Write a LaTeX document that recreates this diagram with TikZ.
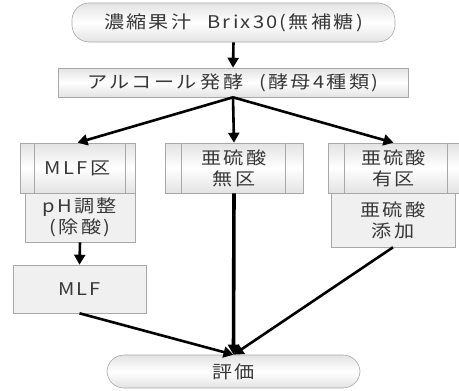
\documentclass[tikz,border=0pt]{standalone}
\usepackage{fontspec}
\newfontfamily\jp[FakeStretch=1.15, LetterSpace=13]{Noto Sans CJK JP}
\usetikzlibrary{arrows.meta,calc}
\definecolor{txt}{HTML}{383838}
\definecolor{edge}{HTML}{A8A8A8}
\tikzset{
  shadebox/.style={draw=edge, line width=0.6pt, rectangle, inner sep=0pt,
    top color=gray!22, bottom color=gray!22, middle color=white,
    text=txt, font=\jp\fontsize{17.5}{21}\selectfont, align=center},
  procbox/.style={shadebox},
  stadium/.style={shadebox, rounded corners=17pt},
  conn/.style={line width=2.6pt, -{Triangle[length=10pt,width=11pt]}},
}
\begin{document}
\begin{tikzpicture}[x=1pt,y=-1pt]
\useasboundingbox (0,0) rectangle (459,391);
\node[stadium, minimum width=323pt, minimum height=39pt] (top) at (233.5,22.5) {濃縮果汁\hspace{16pt}Brix30\hspace{2pt}(無補糖)};
\node[shadebox, minimum width=350pt, minimum height=29pt] (ferm) at (233,82.5) {アルコール\hspace{4pt}発酵\hspace{16pt}(酵母4種類)};

\node[procbox, minimum width=115pt, minimum height=50pt] (b1) at (77.5,168) {MLF区};
\node[procbox, minimum width=138pt, minimum height=50pt] (b2) at (234,168) {亜硫酸\\無区};
\node[procbox, minimum width=131pt, minimum height=50pt] (b3) at (393.5,168) {亜硫酸\\有区};
\foreach \n/\a/\b in {b1/15/10, b2/17/18, b3/17/12}{
  \draw[edge, line width=0.6pt] ($(\n.north west)+(\a,0)$) -- ($(\n.south west)+(\a,0)$);
  \draw[edge, line width=0.6pt] ($(\n.north east)+(-\b,0)$) -- ($(\n.south east)+(-\b,0)$);
}
\node[shadebox, minimum width=110pt, minimum height=49pt, top color=gray!12, bottom color=gray!12] (ph) at (80,217.5) {pH調整\\(除酸)};
\node[shadebox, minimum width=124pt, minimum height=54pt, top color=gray!12, bottom color=gray!12] (add) at (393,220) {亜硫酸\\添加};
\node[shadebox, minimum width=133pt, minimum height=48pt, top color=gray!12, bottom color=gray!12] (mlf) at (79.5,289) {MLF};
\node[stadium, minimum width=253pt, minimum height=33pt] (eval) at (233.5,371.5) {評価};

\draw[conn] (top.south) -- (ferm.north);
\draw[conn] (ferm.south) -- (b1.north);
\draw[conn] (ferm.south) -- (b2.north);
\draw[conn] (ferm.south) -- (b3.north);
\draw[conn] (ph.south) -- (mlf.north);
\draw[conn] (mlf.south) -- (eval.north);
\draw[conn, line width=3.6pt] (b2.south) -- (eval.north);
\draw[conn] (add.south) -- (eval.north);
\end{tikzpicture}
\end{document}
